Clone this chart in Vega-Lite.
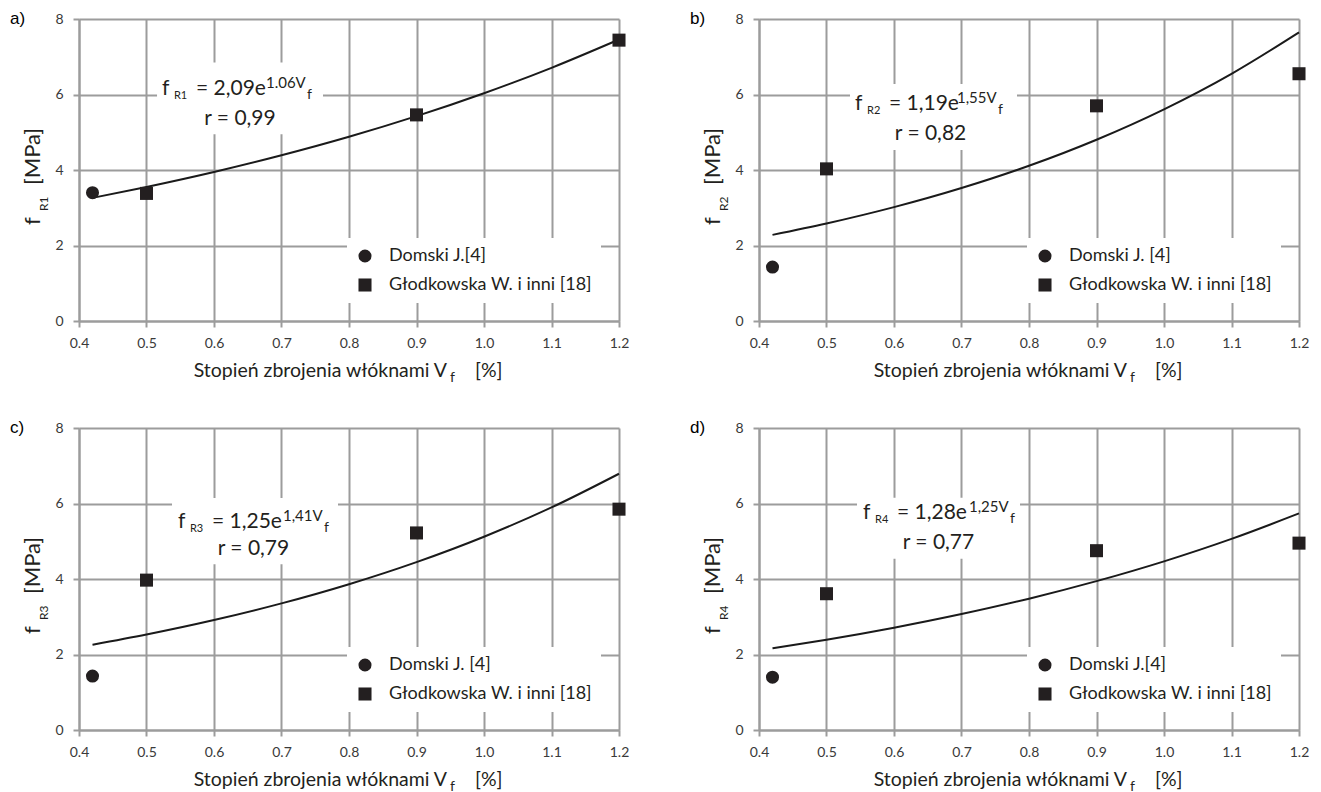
{
"$schema": "https://vega.github.io/schema/vega-lite/v6.json",
"background": "white",
"padding": {"left": 10, "top": 10, "right": 5, "bottom": 5},
"datasets": {
"one": [{}],
"curve": [
{"p":"a","x":0.42,"y":3.262},{"p":"a","x":0.5,"y":3.551},{"p":"a","x":0.6,"y":3.948},{"p":"a","x":0.7,"y":4.390},{"p":"a","x":0.8,"y":4.880},{"p":"a","x":0.9,"y":5.426},{"p":"a","x":1.0,"y":6.033},{"p":"a","x":1.1,"y":6.707},{"p":"a","x":1.2,"y":7.457},
{"p":"b","x":0.42,"y":2.282},{"p":"b","x":0.5,"y":2.583},{"p":"b","x":0.6,"y":3.016},{"p":"b","x":0.7,"y":3.522},{"p":"b","x":0.8,"y":4.112},{"p":"b","x":0.9,"y":4.802},{"p":"b","x":1.0,"y":5.607},{"p":"b","x":1.1,"y":6.547},{"p":"b","x":1.2,"y":7.644},
{"p":"c","x":0.42,"y":2.260},{"p":"c","x":0.5,"y":2.530},{"p":"c","x":0.6,"y":2.913},{"p":"c","x":0.7,"y":3.354},{"p":"c","x":0.8,"y":3.862},{"p":"c","x":0.9,"y":4.447},{"p":"c","x":1.0,"y":5.120},{"p":"c","x":1.1,"y":5.895},{"p":"c","x":1.2,"y":6.788},
{"p":"d","x":0.42,"y":2.164},{"p":"d","x":0.5,"y":2.391},{"p":"d","x":0.6,"y":2.710},{"p":"d","x":0.7,"y":3.071},{"p":"d","x":0.8,"y":3.479},{"p":"d","x":0.9,"y":3.943},{"p":"d","x":1.0,"y":4.468},{"p":"d","x":1.1,"y":5.063},{"p":"d","x":1.2,"y":5.737}
],
"meas": [
{"p":"a","src":"Domski J.[4]","x":0.42,"y":3.40},{"p":"a","src":"Głodkowska W. i inni [18]","x":0.5,"y":3.38},{"p":"a","src":"Głodkowska W. i inni [18]","x":0.9,"y":5.46},{"p":"a","src":"Głodkowska W. i inni [18]","x":1.2,"y":7.44},
{"p":"b","src":"Domski J. [4]","x":0.42,"y":1.43},{"p":"b","src":"Głodkowska W. i inni [18]","x":0.5,"y":4.03},{"p":"b","src":"Głodkowska W. i inni [18]","x":0.9,"y":5.70},{"p":"b","src":"Głodkowska W. i inni [18]","x":1.2,"y":6.55},
{"p":"c","src":"Domski J. [4]","x":0.42,"y":1.43},{"p":"c","src":"Głodkowska W. i inni [18]","x":0.5,"y":3.97},{"p":"c","src":"Głodkowska W. i inni [18]","x":0.9,"y":5.22},{"p":"c","src":"Głodkowska W. i inni [18]","x":1.2,"y":5.85},
{"p":"d","src":"Domski J.[4]","x":0.42,"y":1.40},{"p":"d","src":"Głodkowska W. i inni [18]","x":0.5,"y":3.61},{"p":"d","src":"Głodkowska W. i inni [18]","x":0.9,"y":4.75},{"p":"d","src":"Głodkowska W. i inni [18]","x":1.2,"y":4.95}
]
},
"columns": 2,
"spacing": {"row": 33, "column": 61},
"resolve": {"scale": {"shape": "independent"}, "legend": {"shape": "independent"}},
"concat": [
{
"width": 540, "height": 302,
"layer": [
{"data":{"name":"curve"},"transform":[{"filter":"datum.p==='a'"}],"mark":{"type":"line","color":"#1a1a1a","strokeWidth":2,"interpolate":"monotone"},"encoding":{"x":{"field":"x","type":"quantitative","scale":{"domain":[0.4,1.2],"nice":false,"zero":false},"axis":{"values":[0.4,0.5,0.6,0.7,0.8,0.9,1.0,1.1,1.2],"format":".1f","title":null,"labelPadding":9,"labelFlush":false,"labelOverlap":false,"grid":true,"domain":true,"ticks":true}},"y":{"field":"y","type":"quantitative","scale":{"domain":[0,8],"nice":false},"axis":{"values":[0,1,2,3,4,5,6,7,8],"tickCount":8,"format":"d","title":null,"labelPadding":10,"labelOverlap":false,"grid":true,"domain":true,"ticks":true}}}},
{"data":{"name":"one"},"mark":{"type":"rect","fill":"white"},"encoding":{"x":{"datum":0.5156,"type":"quantitative"},"x2":{"datum":0.7615},"y":{"datum":6.85,"type":"quantitative"},"y2":{"datum":4.95}}},
{"data":{"name":"meas"},"transform":[{"filter":"datum.p==='a'"}],"mark":{"type":"point","filled":true,"size":170,"color":"#231f20","opacity":1},"encoding":{"x":{"field":"x","type":"quantitative"},"y":{"field":"y","type":"quantitative"},"shape":{"field":"src","type":"nominal","scale":{"range":["circle","square"]},"legend":{"title":null}}}},
{"data":{"name":"one"},"mark":{"type":"text","text":"f","fontSize":21},"encoding":{"x":{"datum":0.523,"type":"quantitative"},"y":{"datum":5.987,"type":"quantitative"}}},
{"data":{"name":"one"},"mark":{"type":"text","text":"R1","fontSize":11},"encoding":{"x":{"datum":0.5407,"type":"quantitative"},"y":{"datum":5.881,"type":"quantitative"}}},
{"data":{"name":"one"},"mark":{"type":"text","text":"= 2,09e","fontSize":21},"encoding":{"x":{"datum":0.5733,"type":"quantitative"},"y":{"datum":5.987,"type":"quantitative"}}},
{"data":{"name":"one"},"mark":{"type":"text","text":"1.06V","fontSize":15},"encoding":{"x":{"datum":0.677,"type":"quantitative"},"y":{"datum":6.172,"type":"quantitative"}}},
{"data":{"name":"one"},"mark":{"type":"text","text":"f","fontSize":14},"encoding":{"x":{"datum":0.7378,"type":"quantitative"},"y":{"datum":5.881,"type":"quantitative"}}},
{"data":{"name":"one"},"mark":{"type":"text","text":"r = 0,99","fontSize":21,"align":"center"},"encoding":{"x":{"datum":0.6385,"type":"quantitative"},"y":{"datum":5.192,"type":"quantitative"}}},
{"data":{"name":"one"},"mark":{"type":"text","text":"a)","font":"Liberation Sans","fontSize":17,"color":"black"},"encoding":{"x":{"datum":0.2978,"type":"quantitative"},"y":{"datum":7.86,"type":"quantitative"}}},
{"data":{"name":"one"},"mark":{"type":"text","text":"Stopień zbrojenia włóknami V","fontSize":19.5,"align":"right"},"encoding":{"x":{"datum":0.9452,"type":"quantitative"},"y":{"datum":-1.483,"type":"quantitative"}}},
{"data":{"name":"one"},"mark":{"type":"text","text":"f","fontSize":14},"encoding":{"x":{"datum":0.9496,"type":"quantitative"},"y":{"datum":-1.616,"type":"quantitative"}}},
{"data":{"name":"one"},"mark":{"type":"text","text":"[%]","fontSize":19.5},"encoding":{"x":{"datum":0.9867,"type":"quantitative"},"y":{"datum":-1.483,"type":"quantitative"}}},
{"data":{"name":"one"},"mark":{"type":"text","text":"f","fontSize":22,"angle":270},"encoding":{"x":{"datum":0.3422,"type":"quantitative"},"y":{"datum":2.543,"type":"quantitative"}}},
{"data":{"name":"one"},"mark":{"type":"text","text":"R1","fontSize":12,"angle":270},"encoding":{"x":{"datum":0.3541,"type":"quantitative"},"y":{"datum":2.914,"type":"quantitative"}}},
{"data":{"name":"one"},"mark":{"type":"text","text":"[MPa]","fontSize":22,"angle":270},"encoding":{"x":{"datum":0.3422,"type":"quantitative"},"y":{"datum":3.603,"type":"quantitative"}}}
]
},
{
"width": 540, "height": 302,
"layer": [
{"data":{"name":"curve"},"transform":[{"filter":"datum.p==='b'"}],"mark":{"type":"line","color":"#1a1a1a","strokeWidth":2,"interpolate":"monotone"},"encoding":{"x":{"field":"x","type":"quantitative","scale":{"domain":[0.4,1.2],"nice":false,"zero":false},"axis":{"values":[0.4,0.5,0.6,0.7,0.8,0.9,1.0,1.1,1.2],"format":".1f","title":null,"labelPadding":9,"labelFlush":false,"labelOverlap":false,"grid":true,"domain":true,"ticks":true}},"y":{"field":"y","type":"quantitative","scale":{"domain":[0,8],"nice":false},"axis":{"values":[0,1,2,3,4,5,6,7,8],"tickCount":8,"format":"d","title":null,"labelPadding":10,"labelOverlap":false,"grid":true,"domain":true,"ticks":true}}}},
{"data":{"name":"one"},"mark":{"type":"rect","fill":"white"},"encoding":{"x":{"datum":0.5348,"type":"quantitative"},"x2":{"datum":0.7822},"y":{"datum":6.278,"type":"quantitative"},"y2":{"datum":4.53}}},
{"data":{"name":"meas"},"transform":[{"filter":"datum.p==='b'"}],"mark":{"type":"point","filled":true,"size":170,"color":"#231f20","opacity":1},"encoding":{"x":{"field":"x","type":"quantitative"},"y":{"field":"y","type":"quantitative"},"shape":{"field":"src","type":"nominal","scale":{"range":["circle","square"]},"legend":{"title":null}}}},
{"data":{"name":"one"},"mark":{"type":"text","text":"f","fontSize":21},"encoding":{"x":{"datum":0.5422,"type":"quantitative"},"y":{"datum":5.589,"type":"quantitative"}}},
{"data":{"name":"one"},"mark":{"type":"text","text":"R2","fontSize":11},"encoding":{"x":{"datum":0.56,"type":"quantitative"},"y":{"datum":5.483,"type":"quantitative"}}},
{"data":{"name":"one"},"mark":{"type":"text","text":"= 1,19e","fontSize":21},"encoding":{"x":{"datum":0.5926,"type":"quantitative"},"y":{"datum":5.589,"type":"quantitative"}}},
{"data":{"name":"one"},"mark":{"type":"text","text":"1,55V","fontSize":15},"encoding":{"x":{"datum":0.6933,"type":"quantitative"},"y":{"datum":5.775,"type":"quantitative"}}},
{"data":{"name":"one"},"mark":{"type":"text","text":"f","fontSize":14},"encoding":{"x":{"datum":0.7541,"type":"quantitative"},"y":{"datum":5.483,"type":"quantitative"}}},
{"data":{"name":"one"},"mark":{"type":"text","text":"r = 0,82","fontSize":21,"align":"center"},"encoding":{"x":{"datum":0.6541,"type":"quantitative"},"y":{"datum":4.795,"type":"quantitative"}}},
{"data":{"name":"one"},"mark":{"type":"text","text":"b)","font":"Liberation Sans","fontSize":17,"color":"black"},"encoding":{"x":{"datum":0.2978,"type":"quantitative"},"y":{"datum":7.86,"type":"quantitative"}}},
{"data":{"name":"one"},"mark":{"type":"text","text":"Stopień zbrojenia włóknami V","fontSize":19.5,"align":"right"},"encoding":{"x":{"datum":0.9452,"type":"quantitative"},"y":{"datum":-1.483,"type":"quantitative"}}},
{"data":{"name":"one"},"mark":{"type":"text","text":"f","fontSize":14},"encoding":{"x":{"datum":0.9496,"type":"quantitative"},"y":{"datum":-1.616,"type":"quantitative"}}},
{"data":{"name":"one"},"mark":{"type":"text","text":"[%]","fontSize":19.5},"encoding":{"x":{"datum":0.9867,"type":"quantitative"},"y":{"datum":-1.483,"type":"quantitative"}}},
{"data":{"name":"one"},"mark":{"type":"text","text":"f","fontSize":22,"angle":270},"encoding":{"x":{"datum":0.3422,"type":"quantitative"},"y":{"datum":2.543,"type":"quantitative"}}},
{"data":{"name":"one"},"mark":{"type":"text","text":"R2","fontSize":12,"angle":270},"encoding":{"x":{"datum":0.3541,"type":"quantitative"},"y":{"datum":2.914,"type":"quantitative"}}},
{"data":{"name":"one"},"mark":{"type":"text","text":"[MPa]","fontSize":22,"angle":270},"encoding":{"x":{"datum":0.3422,"type":"quantitative"},"y":{"datum":3.603,"type":"quantitative"}}}
]
},
{
"width": 540, "height": 302,
"layer": [
{"data":{"name":"curve"},"transform":[{"filter":"datum.p==='c'"}],"mark":{"type":"line","color":"#1a1a1a","strokeWidth":2,"interpolate":"monotone"},"encoding":{"x":{"field":"x","type":"quantitative","scale":{"domain":[0.4,1.2],"nice":false,"zero":false},"axis":{"values":[0.4,0.5,0.6,0.7,0.8,0.9,1.0,1.1,1.2],"format":".1f","title":null,"labelPadding":9,"labelFlush":false,"labelOverlap":false,"grid":true,"domain":true,"ticks":true}},"y":{"field":"y","type":"quantitative","scale":{"domain":[0,8],"nice":false},"axis":{"values":[0,1,2,3,4,5,6,7,8],"tickCount":8,"format":"d","title":null,"labelPadding":10,"labelOverlap":false,"grid":true,"domain":true,"ticks":true}}}},
{"data":{"name":"one"},"mark":{"type":"rect","fill":"white"},"encoding":{"x":{"datum":0.5378,"type":"quantitative"},"x2":{"datum":0.7837},"y":{"datum":6.144,"type":"quantitative"},"y2":{"datum":4.388}}},
{"data":{"name":"meas"},"transform":[{"filter":"datum.p==='c'"}],"mark":{"type":"point","filled":true,"size":170,"color":"#231f20","opacity":1},"encoding":{"x":{"field":"x","type":"quantitative"},"y":{"field":"y","type":"quantitative"},"shape":{"field":"src","type":"nominal","scale":{"range":["circle","square"]},"legend":{"title":null}}}},
{"data":{"name":"one"},"mark":{"type":"text","text":"f","fontSize":21},"encoding":{"x":{"datum":0.5467,"type":"quantitative"},"y":{"datum":5.346,"type":"quantitative"}}},
{"data":{"name":"one"},"mark":{"type":"text","text":"R3","fontSize":11},"encoding":{"x":{"datum":0.5644,"type":"quantitative"},"y":{"datum":5.239,"type":"quantitative"}}},
{"data":{"name":"one"},"mark":{"type":"text","text":"= 1,25e","fontSize":21},"encoding":{"x":{"datum":0.597,"type":"quantitative"},"y":{"datum":5.346,"type":"quantitative"}}},
{"data":{"name":"one"},"mark":{"type":"text","text":"1,41V","fontSize":15},"encoding":{"x":{"datum":0.7022,"type":"quantitative"},"y":{"datum":5.532,"type":"quantitative"}}},
{"data":{"name":"one"},"mark":{"type":"text","text":"f","fontSize":14},"encoding":{"x":{"datum":0.763,"type":"quantitative"},"y":{"datum":5.239,"type":"quantitative"}}},
{"data":{"name":"one"},"mark":{"type":"text","text":"r = 0,79","fontSize":21,"align":"center"},"encoding":{"x":{"datum":0.6585,"type":"quantitative"},"y":{"datum":4.628,"type":"quantitative"}}},
{"data":{"name":"one"},"mark":{"type":"text","text":"c)","font":"Liberation Sans","fontSize":17,"color":"black"},"encoding":{"x":{"datum":0.2978,"type":"quantitative"},"y":{"datum":7.86,"type":"quantitative"}}},
{"data":{"name":"one"},"mark":{"type":"text","text":"Stopień zbrojenia włóknami V","fontSize":19.5,"align":"right"},"encoding":{"x":{"datum":0.9452,"type":"quantitative"},"y":{"datum":-1.483,"type":"quantitative"}}},
{"data":{"name":"one"},"mark":{"type":"text","text":"f","fontSize":14},"encoding":{"x":{"datum":0.9496,"type":"quantitative"},"y":{"datum":-1.616,"type":"quantitative"}}},
{"data":{"name":"one"},"mark":{"type":"text","text":"[%]","fontSize":19.5},"encoding":{"x":{"datum":0.9867,"type":"quantitative"},"y":{"datum":-1.483,"type":"quantitative"}}},
{"data":{"name":"one"},"mark":{"type":"text","text":"f","fontSize":22,"angle":270},"encoding":{"x":{"datum":0.3422,"type":"quantitative"},"y":{"datum":2.543,"type":"quantitative"}}},
{"data":{"name":"one"},"mark":{"type":"text","text":"R3","fontSize":12,"angle":270},"encoding":{"x":{"datum":0.3541,"type":"quantitative"},"y":{"datum":2.914,"type":"quantitative"}}},
{"data":{"name":"one"},"mark":{"type":"text","text":"[MPa]","fontSize":22,"angle":270},"encoding":{"x":{"datum":0.3422,"type":"quantitative"},"y":{"datum":3.603,"type":"quantitative"}}}
]
},
{
"width": 540, "height": 302,
"layer": [
{"data":{"name":"curve"},"transform":[{"filter":"datum.p==='d'"}],"mark":{"type":"line","color":"#1a1a1a","strokeWidth":2,"interpolate":"monotone"},"encoding":{"x":{"field":"x","type":"quantitative","scale":{"domain":[0.4,1.2],"nice":false,"zero":false},"axis":{"values":[0.4,0.5,0.6,0.7,0.8,0.9,1.0,1.1,1.2],"format":".1f","title":null,"labelPadding":9,"labelFlush":false,"labelOverlap":false,"grid":true,"domain":true,"ticks":true}},"y":{"field":"y","type":"quantitative","scale":{"domain":[0,8],"nice":false},"axis":{"values":[0,1,2,3,4,5,6,7,8],"tickCount":8,"format":"d","title":null,"labelPadding":10,"labelOverlap":false,"grid":true,"domain":true,"ticks":true}}}},
{"data":{"name":"one"},"mark":{"type":"rect","fill":"white"},"encoding":{"x":{"datum":0.5452,"type":"quantitative"},"x2":{"datum":0.7867},"y":{"datum":6.154,"type":"quantitative"},"y2":{"datum":4.536}}},
{"data":{"name":"meas"},"transform":[{"filter":"datum.p==='d'"}],"mark":{"type":"point","filled":true,"size":170,"color":"#231f20","opacity":1},"encoding":{"x":{"field":"x","type":"quantitative"},"y":{"field":"y","type":"quantitative"},"shape":{"field":"src","type":"nominal","scale":{"range":["circle","square"]},"legend":{"title":null}}}},
{"data":{"name":"one"},"mark":{"type":"text","text":"f","fontSize":21},"encoding":{"x":{"datum":0.5541,"type":"quantitative"},"y":{"datum":5.597,"type":"quantitative"}}},
{"data":{"name":"one"},"mark":{"type":"text","text":"R4","fontSize":11},"encoding":{"x":{"datum":0.5719,"type":"quantitative"},"y":{"datum":5.491,"type":"quantitative"}}},
{"data":{"name":"one"},"mark":{"type":"text","text":"= 1,28e","fontSize":21},"encoding":{"x":{"datum":0.6044,"type":"quantitative"},"y":{"datum":5.597,"type":"quantitative"}}},
{"data":{"name":"one"},"mark":{"type":"text","text":"1,25V","fontSize":15},"encoding":{"x":{"datum":0.7111,"type":"quantitative"},"y":{"datum":5.782,"type":"quantitative"}}},
{"data":{"name":"one"},"mark":{"type":"text","text":"f","fontSize":14},"encoding":{"x":{"datum":0.7719,"type":"quantitative"},"y":{"datum":5.491,"type":"quantitative"}}},
{"data":{"name":"one"},"mark":{"type":"text","text":"r = 0,77","fontSize":21,"align":"center"},"encoding":{"x":{"datum":0.6659,"type":"quantitative"},"y":{"datum":4.801,"type":"quantitative"}}},
{"data":{"name":"one"},"mark":{"type":"text","text":"d)","font":"Liberation Sans","fontSize":17,"color":"black"},"encoding":{"x":{"datum":0.2978,"type":"quantitative"},"y":{"datum":7.86,"type":"quantitative"}}},
{"data":{"name":"one"},"mark":{"type":"text","text":"Stopień zbrojenia włóknami V","fontSize":19.5,"align":"right"},"encoding":{"x":{"datum":0.9452,"type":"quantitative"},"y":{"datum":-1.483,"type":"quantitative"}}},
{"data":{"name":"one"},"mark":{"type":"text","text":"f","fontSize":14},"encoding":{"x":{"datum":0.9496,"type":"quantitative"},"y":{"datum":-1.616,"type":"quantitative"}}},
{"data":{"name":"one"},"mark":{"type":"text","text":"[%]","fontSize":19.5},"encoding":{"x":{"datum":0.9867,"type":"quantitative"},"y":{"datum":-1.483,"type":"quantitative"}}},
{"data":{"name":"one"},"mark":{"type":"text","text":"f","fontSize":22,"angle":270},"encoding":{"x":{"datum":0.3422,"type":"quantitative"},"y":{"datum":2.543,"type":"quantitative"}}},
{"data":{"name":"one"},"mark":{"type":"text","text":"R4","fontSize":12,"angle":270},"encoding":{"x":{"datum":0.3541,"type":"quantitative"},"y":{"datum":2.914,"type":"quantitative"}}},
{"data":{"name":"one"},"mark":{"type":"text","text":"[MPa]","fontSize":22,"angle":270},"encoding":{"x":{"datum":0.3422,"type":"quantitative"},"y":{"datum":3.603,"type":"quantitative"}}}
]
}
],
"config": {
"view": {"stroke": null},
"text": {"font": "Lato", "color": "#231f20", "align": "left", "baseline": "alphabetic"},
"axis": {"gridColor": "#9c9c9c", "gridWidth": 2, "gridOpacity": 1, "domainColor": "#9c9c9c", "domainWidth": 2, "tickColor": "#9c9c9c", "tickWidth": 2, "tickSize": 6, "labelFont": "Lato", "labelFontSize": 14, "labelColor": "#3a3a3a", "labelOverlap": false},
"legend": {"orient": "bottom-right", "offset": 18, "fillColor": "white", "padding": 9, "labelFont": "Lato", "labelFontSize": 18, "labelColor": "#231f20", "labelLimit": 400, "symbolSize": 170, "symbolFillColor": "#231f20", "symbolStrokeColor": "#231f20", "symbolStrokeWidth": 0, "symbolOpacity": 1, "rowPadding": 11, "labelOffset": 15}
}
}
